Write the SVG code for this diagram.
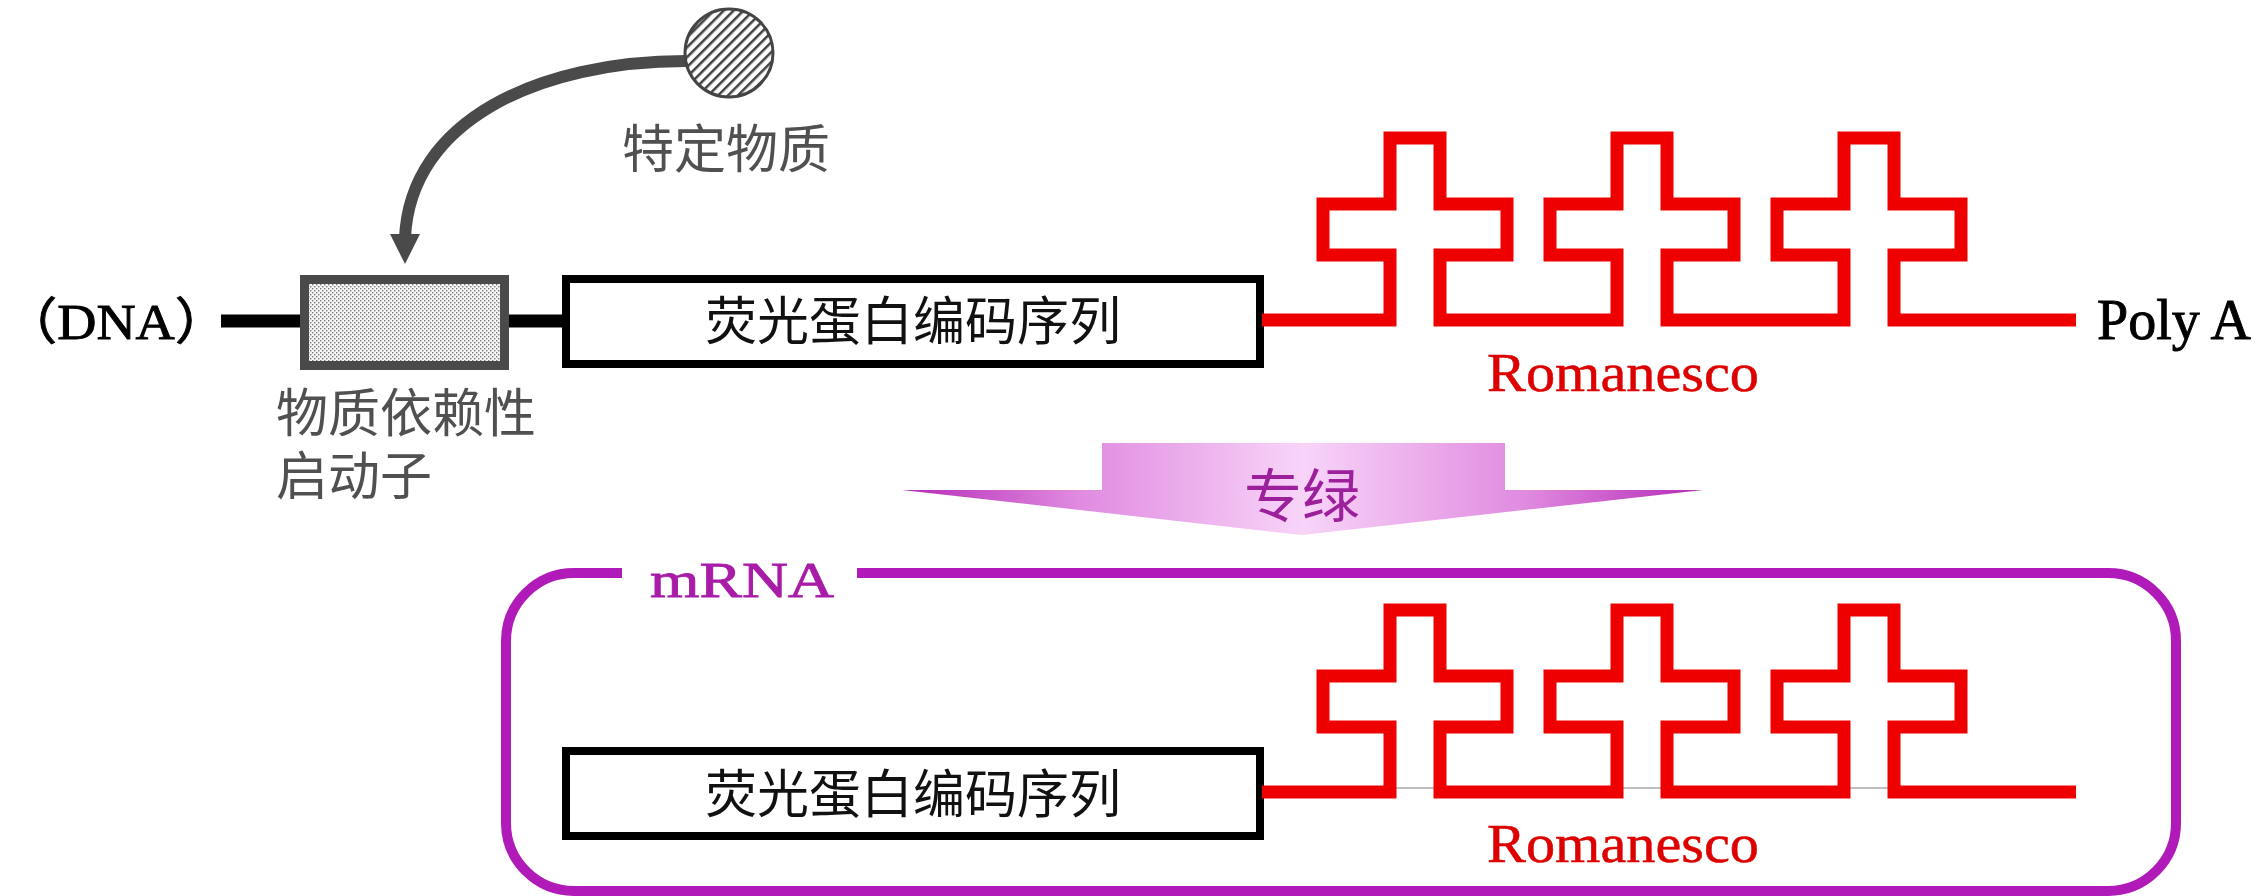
<svg xmlns="http://www.w3.org/2000/svg" width="2258" height="896" viewBox="0 0 2258 896">
<style>
.cjk{font-family:"Noto Sans CJK SC","Noto Sans",sans-serif;font-size:52px}
.gray{fill:#505050}
.ser{font-family:"Liberation Serif","Noto Sans CJK SC",serif}
.red{fill:none;stroke:#ee0000;stroke-width:13;stroke-linejoin:miter;stroke-linecap:butt}
.box{fill:#fff;stroke:#000;stroke-width:8}
.redtxt{font-family:"Liberation Serif",serif;font-size:55px;fill:#dd0000;stroke:#dd0000;stroke-width:0.5}
.dna{stroke:#000;stroke-width:13}
</style>
<defs>
<pattern id="hatch" width="7" height="7" patternUnits="userSpaceOnUse" patternTransform="rotate(45)">
<rect width="7" height="7" fill="#fff"/>
<rect x="0" y="0" width="2.5" height="7" fill="#404040"/>
</pattern>
<pattern id="dots" width="4" height="4" patternUnits="userSpaceOnUse">
<rect width="4" height="4" fill="#f6f6f6"/>
<rect x="0" y="0" width="1.4" height="1.4" fill="#7a7a7a"/>
<rect x="2" y="2" width="1.4" height="1.4" fill="#7a7a7a"/>
</pattern>
<linearGradient id="tg" gradientUnits="userSpaceOnUse" x1="902" y1="0" x2="1703" y2="0">
<stop offset="0" stop-color="#b52ab5"/>
<stop offset="0.22" stop-color="#e08ae0"/>
<stop offset="0.5" stop-color="#f8d4f8"/>
<stop offset="0.78" stop-color="#e08ae0"/>
<stop offset="1" stop-color="#b52ab5"/>
</linearGradient>
<path id="loops" d="M1262 320 H1390 V255 H1323 V204 H1390 V138 H1440 V204 H1507 V255 H1440 V320 H1617 V255 H1550 V204 H1617 V138 H1667 V204 H1734 V255 H1667 V320 H1844 V255 H1777 V204 H1844 V138 H1894 V204 H1961 V255 H1894 V320 H2076"/>
</defs>

<g id="connectors">
<line class="dna" x1="221" y1="321" x2="302" y2="321"/>
<line class="dna" x1="507" y1="321" x2="565" y2="321"/>
<path d="M686 61 C540 61 410 120 405 238" fill="none" stroke="#4a4a4a" stroke-width="12"/>
<polygon points="390,234 420,234 405,264" fill="#4a4a4a"/>
</g>

<g id="substance">
<circle cx="729" cy="53" r="44" fill="url(#hatch)" stroke="#444" stroke-width="3"/>
<text class="cjk gray" x="622" y="168">特定物质</text>
</g>

<g id="dna-label">
<text class="ser" x="3" y="339" font-size="50" fill="#000" stroke="#000" stroke-width="0.9" textLength="226" lengthAdjust="spacingAndGlyphs">（DNA）</text>
</g>

<g id="promoter">
<rect x="304.5" y="279.5" width="200" height="86" fill="url(#dots)" stroke="#4a4a4a" stroke-width="9"/>
<text class="cjk gray" x="276" y="432">物质依赖性</text>
<text class="cjk gray" x="276" y="495">启动子</text>
</g>

<g id="coding-dna">
<rect class="box" x="566" y="279" width="694" height="85"/>
<text class="cjk" x="913" y="340" text-anchor="middle" fill="#111">荧光蛋白编码序列</text>
</g>

<g id="romanesco-dna">
<use href="#loops" class="red"/>
<text class="redtxt" x="1487" y="391" textLength="272" lengthAdjust="spacingAndGlyphs">Romanesco</text>
</g>

<g id="polya">
<text class="ser" x="2097" y="339" font-size="56" fill="#000" stroke="#000" stroke-width="0.9">Poly A</text>
</g>

<g id="transcription">
<path d="M1102 443 H1505 V490 H1703 L1302 535 L902 490 H1102 Z" fill="url(#tg)"/>
<text class="cjk" x="1302" y="517" text-anchor="middle" fill="#9c209c" style="font-size:58px">专绿</text>
</g>

<g id="mrna">
<path d="M622 573 H574 A68 68 0 0 0 506 641 V823 A68 68 0 0 0 574 891 H2108 A68 68 0 0 0 2176 823 V641 A68 68 0 0 0 2108 573 H857" fill="none" stroke="#b01ab8" stroke-width="10"/>
<text class="ser" x="650" y="597" font-size="50" fill="#a81ca8" stroke="#a81ca8" stroke-width="0.8" textLength="184" lengthAdjust="spacingAndGlyphs">mRNA</text>
</g>

<g id="coding-mrna">
<rect class="box" x="566" y="751" width="694" height="85"/>
<text class="cjk" x="913" y="813" text-anchor="middle" fill="#111">荧光蛋白编码序列</text>
</g>

<g id="romanesco-mrna">
<line x1="1396" y1="788" x2="1888" y2="788" stroke="#aaa" stroke-width="1.5"/>
<use href="#loops" class="red" transform="translate(0,472)"/>
<text class="redtxt" x="1487" y="862" textLength="272" lengthAdjust="spacingAndGlyphs">Romanesco</text>
</g>
</svg>
